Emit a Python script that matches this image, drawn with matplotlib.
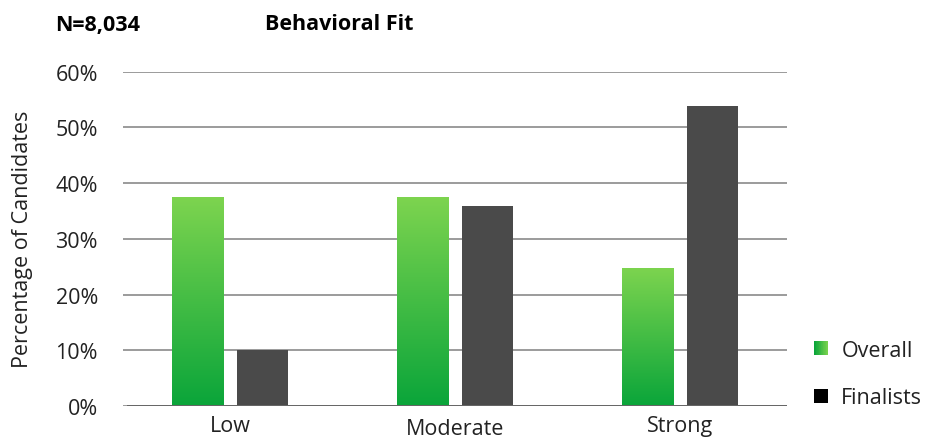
import numpy as np
import matplotlib
matplotlib.use("Agg")
import matplotlib.pyplot as plt
import matplotlib.transforms as mtransforms
from matplotlib.patches import Rectangle
from matplotlib.legend_handler import HandlerBase
from matplotlib.colors import LinearSegmentedColormap

plt.rcParams['font.family'] = ['Open Sans', 'DejaVu Sans']

categories = ["Low", "Moderate", "Strong"]
overall = [37.5, 37.5, 24.8]
finalists = [10.0, 35.9, 53.9]
series_names = ["Overall", "Finalists"]
y_ticks = [0, 10, 20, 30, 40, 50, 60]
y_tick_labels = ["0%", "10%", "20%", "30%", "40%", "50%", "60%"]

green_top = "#7dd44f"
green_bottom = "#0aa53a"
dark_gray = "#4a4a4a"
text_color = "#222222"
green_cmap = LinearSegmentedColormap.from_list("grn", [green_bottom, green_top])

fig = plt.figure(figsize=(9.25, 4.39), dpi=100)
ax = fig.add_axes([123 / 925, 1 - 407 / 439, 664 / 925, (407 - 72.6) / 439])

x = np.arange(len(categories))
width = 0.227
offset = 0.144

green_bars = ax.bar(x - offset, overall, width, facecolor="none", edgecolor="none", zorder=3)
ax.bar(x + offset, finalists, width, color=dark_gray, edgecolor="none", zorder=3)

# vertical gradient fill for the Overall bars
grad = np.linspace(0, 1, 256).reshape(-1, 1)
for rect in green_bars:
    x0, y0 = rect.get_x(), rect.get_y()
    w, h = rect.get_width(), rect.get_height()
    im = ax.imshow(grad, cmap=green_cmap, origin="lower", aspect="auto",
                   extent=(x0, x0 + w, y0, y0 + h), zorder=3, interpolation="bicubic")
    im.set_clip_path(rect)

ax.set_xlim(-0.475, 2.475)
ax.set_ylim(0, 60)
ax.set_yticks(y_ticks)
ax.set_yticklabels(y_tick_labels)
ax.set_xticks(x)
ax.set_xticklabels(categories)
ax.tick_params(axis="y", length=0, pad=18, labelsize=15.5, labelcolor=text_color)
ax.tick_params(axis="x", length=0, pad=6.5, labelsize=15.5, labelcolor=text_color)
for s in ax.spines.values():
    s.set_visible(False)
ax.yaxis.grid(True, color="#8a8a8a", linewidth=1.2, zorder=0)
ax.set_axisbelow(True)
ax.axhline(0, xmin=5 / 664, xmax=1.0, color="#666666", linewidth=1.4, zorder=4)

# "Moderate" sits a little lower than its neighbours
lbl = ax.get_xticklabels()[1]
lbl.set_transform(lbl.get_transform() + mtransforms.ScaledTranslation(0, -2 / 72, fig.dpi_scale_trans))

ax.set_ylabel("Percentage of Candidates", fontsize=15.5, color=text_color)
ax.yaxis.set_label_coords(-0.1355, 0.5)

fig.text(55 / 925, 1 - 25 / 439, "N=8,034", fontsize=15.5, fontweight="bold", va="center", ha="left")
fig.text(265 / 925, 1 - 25 / 439, "Behavioral Fit", fontsize=15.5, fontweight="bold", va="center", ha="left")


class GradientHandler(HandlerBase):
    def create_artists(self, legend, orig_handle, xdescent, ydescent, width, height, fontsize, trans):
        n = 20
        size = 14 * 72 / 100
        x0 = -xdescent
        y0 = -ydescent + (height - size) / 2
        arts = []
        for i in range(n):
            c = green_cmap(i / (n - 1))
            r = Rectangle((x0 + i * size / n, y0), size / n * 1.05, size, facecolor=c,
                          edgecolor="none", transform=trans)
            arts.append(r)
        return arts


class SquareHandler(HandlerBase):
    def create_artists(self, legend, orig_handle, xdescent, ydescent, width, height, fontsize, trans):
        size = 14 * 72 / 100
        x0 = -xdescent
        y0 = -ydescent + (height - size) / 2
        return [Rectangle((x0, y0), size, size, facecolor="black", edgecolor="none", transform=trans)]


h1 = Rectangle((0, 0), 1, 1)
h2 = Rectangle((0, 0), 1, 1, facecolor="black")
leg = fig.legend([h1, h2], series_names, loc="center left",
                 bbox_to_anchor=(795 / 925, 1 - 375 / 439), frameon=False,
                 fontsize=15.5, handler_map={h1: GradientHandler(), h2: SquareHandler()},
                 handlelength=0.65, handletextpad=0.6, labelspacing=1.23)
for t in leg.get_texts():
    t.set_color(text_color)

fig.savefig("out.png", dpi=100)
